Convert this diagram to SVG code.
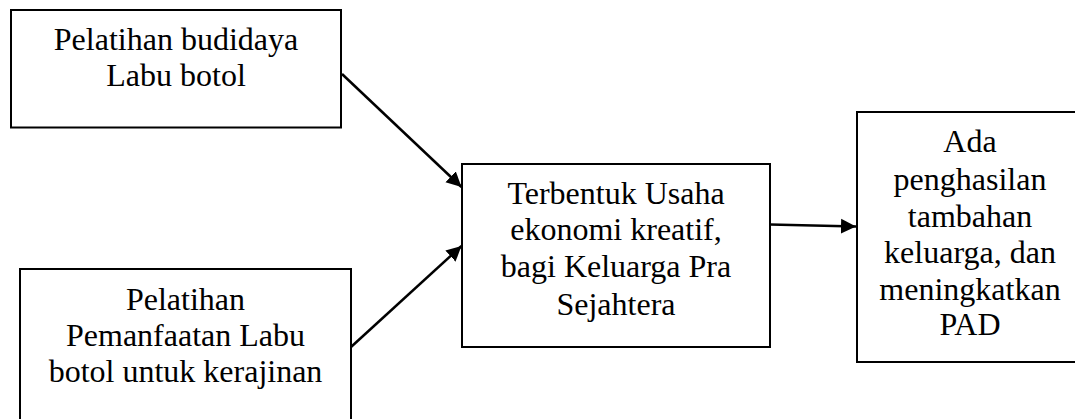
<svg xmlns="http://www.w3.org/2000/svg" width="1075" height="419" viewBox="0 0 1075 419">
<style>
.box{fill:#fff;stroke:#000;stroke-width:2}
.t{font-family:"Liberation Serif","Times New Roman",serif;font-size:32px;fill:#000;text-anchor:middle}
.c{stroke:#000;stroke-width:2.5;fill:none;marker-end:url(#ah)}
</style>
<defs>
<marker id="ah" markerUnits="userSpaceOnUse" markerWidth="16" markerHeight="16" viewBox="0 0 16 15" refX="15" refY="7.5" orient="auto">
<path d="M0,0 L15,7.5 L0,15 z" fill="#000"/>
</marker>
</defs>
<g id="node1">
<rect class="box" x="11" y="10" width="330" height="117.5"/>
<text class="t" x="176" y="49.5">Pelatihan budidaya</text>
<text class="t" x="176" y="86">Labu botol</text>
</g>
<g id="node2">
<rect class="box" x="20" y="269" width="331" height="170"/>
<text class="t" x="185.5" y="310">Pelatihan</text>
<text class="t" x="185.5" y="346">Pemanfaatan Labu</text>
<text class="t" x="185.5" y="382">botol untuk kerajinan</text>
</g>
<g id="node3">
<rect class="box" x="462" y="164" width="308" height="183"/>
<text class="t" x="616" y="203.5">Terbentuk Usaha</text>
<text class="t" x="616" y="240">ekonomi kreatif,</text>
<text class="t" x="616" y="276.5">bagi Keluarga Pra</text>
<text class="t" x="616" y="315">Sejahtera</text>
</g>
<g id="node4">
<rect class="box" x="857" y="112" width="228" height="250"/>
<text class="t" x="970" y="152">Ada</text>
<text class="t" x="970" y="190">penghasilan</text>
<text class="t" x="970" y="227">tambahan</text>
<text class="t" x="970" y="263">keluarga, dan</text>
<text class="t" x="970" y="300">meningkatkan</text>
<text class="t" x="970" y="335">PAD</text>
</g>
<g id="connectors">
<line class="c" x1="342" y1="74" x2="461.5" y2="187"/>
<line class="c" x1="351" y1="347" x2="461.5" y2="246"/>
<line class="c" x1="770" y1="224.5" x2="856" y2="226.5"/>
</g>
</svg>
